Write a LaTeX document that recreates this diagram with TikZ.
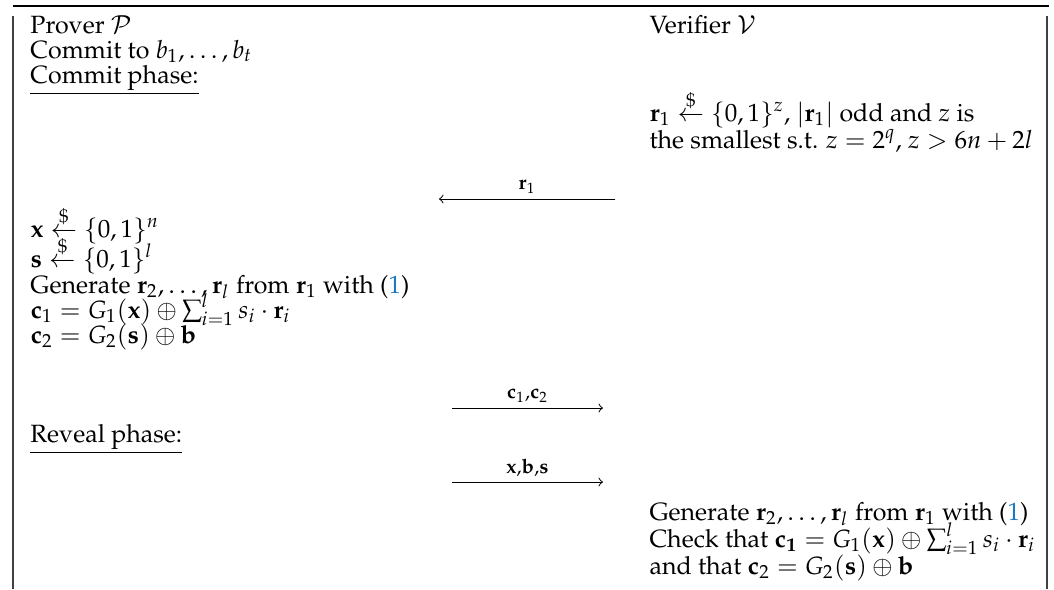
\documentclass[tikz,border=0pt]{standalone}
\usepackage{amsmath}
\usepackage[T1]{fontenc}
\usepackage{mathpazo}
\usepackage{xcolor}
\usepackage{tikz}

\definecolor{refblue}{RGB}{30,120,190}

\begin{document}
\begin{tikzpicture}[
    x=0.40pt,
    y=-0.40pt,
    line/.style={
        anchor=base west,
        inner sep=0pt
    },
    frame/.style={
        draw=black!75,
        line width=0.6pt
    },
    msg/.style={
        ->,
        thin
    },
    msglabel/.style={
        above,
        inner sep=2pt,
        font=\footnotesize
    }
]
\useasboundingbox (0,0) rectangle (1054,589);

% Table frame
\draw[line width=1.1pt] (13,6) -- (1049,6);
\draw[frame] (13,16) -- (13,589);
\draw[frame] (1047,16) -- (1047,589);

% Prover
\node[line] (prover) at (30,33) {Prover $\mathcal{P}$};
\node[line] (commit) at (30,58) {Commit to $b_1,\dots,b_t$};
\node[line] (cphase) at (30,83) {\underline{Commit phase:}};

\node[line] (xsamp) at (30,237) {$\mathbf{x} \stackrel{\$}{\leftarrow} \{0,1\}^n$};
\node[line] (ssamp) at (30,267) {$\mathbf{s} \stackrel{\$}{\leftarrow} \{0,1\}^l$};
\node[line] (pgen) at (30,293)
{Generate $\mathbf{r}_2,\dots,\mathbf{r}_l$ from $\mathbf{r}_1$ with (\textcolor{refblue}{1})};
\node[line] (cone) at (30,318)
{$\mathbf{c}_1 = G_1(\mathbf{x}) \oplus \sum_{i=1}^{l} s_i \cdot \mathbf{r}_i$};
\node[line] (ctwo) at (30,343)
{$\mathbf{c}_2 = G_2(\mathbf{s}) \oplus \mathbf{b}$};

\node[line] (rphase) at (30,442) {\underline{Reveal phase:}};

% Verifier
\node[line] (verifier) at (649,33) {Verifier $\mathcal{V}$};
\node[line] (rsamp) at (649,121)
{$\mathbf{r}_1 \stackrel{\$}{\leftarrow} \{0,1\}^z$, $|\mathbf{r}_1|$ odd and $z$ is};
\node[line] (rcond) at (649,148)
{the smallest s.t. $z = 2^q$, $z > 6n + 2l$};

\node[line] (vgen) at (649,520)
{Generate $\mathbf{r}_2,\dots,\mathbf{r}_l$ from $\mathbf{r}_1$ with (\textcolor{refblue}{1})};
\node[line] (vcheck) at (649,547)
{Check that $\mathbf{c_1} = G_1(\mathbf{x}) \oplus \sum_{i=1}^{l} s_i \cdot \mathbf{r}_i$};
\node[line] (vand) at (649,574)
{and that $\mathbf{c}_2 = G_2(\mathbf{s}) \oplus \mathbf{b}$};

% Messages
\coordinate (rfrom) at (615,199);
\coordinate (rto) at (439,199);
\coordinate (cfrom) at (452,408);
\coordinate (cto) at (603,408);
\coordinate (ofrom) at (452,482);
\coordinate (oto) at (603,482);

\draw[msg] (rfrom) -- node[msglabel] (rlab) {$\mathbf{r}_1$} (rto);
\draw[msg] (cfrom) -- node[msglabel] (clab) {$\mathbf{c}_1$,$\mathbf{c}_2$} (cto);
\draw[msg] (ofrom) -- node[msglabel] (olab) {$\mathbf{x}$,$\mathbf{b}$,$\mathbf{s}$} (oto);

\end{tikzpicture}
\end{document}
